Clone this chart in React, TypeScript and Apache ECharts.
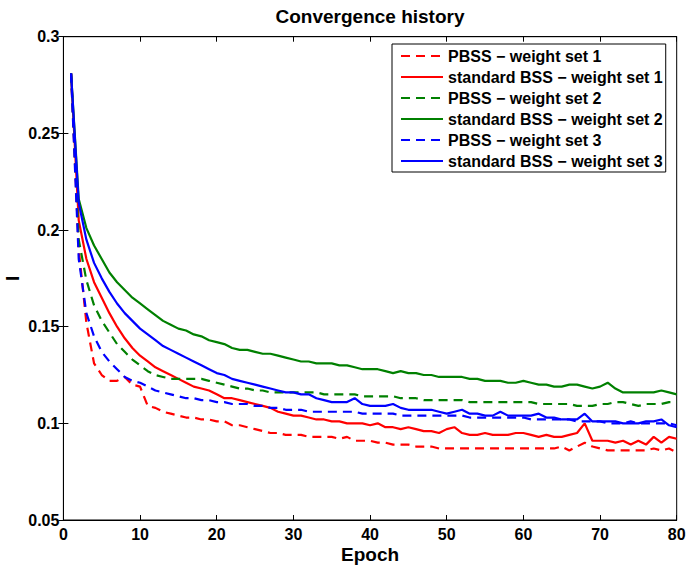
import React, { useEffect, useRef } from "react";
import * as echarts from "echarts";

const epochs: number[] = Array.from({ length: 80 }, (_, i) => i + 1);

const pbss1: number[] = [
  0.281, 0.19, 0.152, 0.131, 0.125, 0.122, 0.122, 0.124, 0.12, 0.119,
  0.109, 0.108, 0.106, 0.105, 0.104, 0.103, 0.103, 0.102, 0.102, 0.101,
  0.101, 0.099, 0.099, 0.098, 0.097, 0.096, 0.095, 0.095, 0.094, 0.094,
  0.094, 0.093, 0.093, 0.093, 0.093, 0.092, 0.093, 0.091, 0.091, 0.091,
  0.09, 0.09, 0.089, 0.089, 0.089, 0.088, 0.088, 0.088, 0.087, 0.087,
  0.087, 0.087, 0.087, 0.087, 0.087, 0.087, 0.087, 0.087, 0.087, 0.087,
  0.087, 0.087, 0.087, 0.087, 0.088, 0.086, 0.088, 0.09, 0.088, 0.087,
  0.086, 0.086, 0.086, 0.086, 0.086, 0.086, 0.087, 0.086, 0.087, 0.085,
];

const standard1: number[] = [
  0.281, 0.205, 0.185, 0.173, 0.165, 0.157, 0.15, 0.144, 0.139, 0.135,
  0.132, 0.129, 0.127, 0.125, 0.123, 0.121, 0.119, 0.118, 0.117, 0.115,
  0.113, 0.113, 0.112, 0.111, 0.11, 0.109, 0.108, 0.106, 0.105, 0.104,
  0.104, 0.103, 0.102, 0.102, 0.101, 0.101, 0.1, 0.1, 0.1, 0.099,
  0.1, 0.098, 0.098, 0.097, 0.098, 0.097, 0.096, 0.096, 0.095, 0.097,
  0.098, 0.095, 0.094, 0.094, 0.095, 0.094, 0.094, 0.094, 0.095, 0.095,
  0.094, 0.093, 0.094, 0.093, 0.093, 0.094, 0.095, 0.1, 0.091, 0.091,
  0.091, 0.09, 0.091, 0.089, 0.091, 0.089, 0.093, 0.09, 0.093, 0.092,
];

const pbss2: number[] = [
  0.281, 0.195, 0.174, 0.161, 0.153, 0.147, 0.141, 0.137, 0.133, 0.13,
  0.127, 0.125, 0.124, 0.123, 0.123, 0.123, 0.123, 0.123, 0.122, 0.121,
  0.12, 0.119, 0.118, 0.118, 0.117, 0.117, 0.116, 0.116, 0.116, 0.116,
  0.116, 0.116, 0.116, 0.115, 0.115, 0.115, 0.115, 0.115, 0.114, 0.114,
  0.114, 0.114, 0.114, 0.113, 0.113, 0.113, 0.112, 0.112, 0.112, 0.112,
  0.112, 0.112, 0.111, 0.111, 0.111, 0.111, 0.111, 0.111, 0.111, 0.111,
  0.111, 0.11, 0.11, 0.11, 0.11, 0.11, 0.109, 0.109, 0.109, 0.11,
  0.11, 0.111, 0.111, 0.11, 0.109, 0.11, 0.11, 0.11, 0.111, 0.111,
];

const standard2: number[] = [
  0.281, 0.216, 0.201, 0.192, 0.185, 0.178, 0.173, 0.169, 0.165, 0.162,
  0.159, 0.156, 0.153, 0.151, 0.149, 0.148, 0.146, 0.145, 0.143, 0.142,
  0.141, 0.139, 0.138, 0.138, 0.137, 0.136, 0.136, 0.135, 0.134, 0.133,
  0.132, 0.132, 0.131, 0.131, 0.131, 0.13, 0.13, 0.129, 0.128, 0.128,
  0.128, 0.127, 0.126, 0.127, 0.126, 0.126, 0.125, 0.125, 0.124, 0.124,
  0.124, 0.124, 0.123, 0.123, 0.122, 0.122, 0.122, 0.121, 0.121, 0.122,
  0.121, 0.12, 0.12, 0.119, 0.119, 0.12, 0.12, 0.119, 0.118, 0.119,
  0.121, 0.118, 0.116, 0.116, 0.116, 0.116, 0.116, 0.117, 0.116, 0.115,
];

const pbss3: number[] = [
  0.281, 0.185, 0.157, 0.145, 0.137, 0.132, 0.128, 0.124, 0.122, 0.121,
  0.119, 0.117, 0.116, 0.115, 0.114, 0.113, 0.113, 0.112, 0.112, 0.111,
  0.111, 0.11, 0.11, 0.11, 0.109, 0.109, 0.108, 0.108, 0.107, 0.107,
  0.107, 0.106, 0.106, 0.106, 0.106, 0.106, 0.106, 0.106, 0.105, 0.105,
  0.105, 0.105, 0.105, 0.104, 0.104, 0.104, 0.104, 0.104, 0.104, 0.104,
  0.104, 0.104, 0.103, 0.103, 0.103, 0.103, 0.103, 0.103, 0.103, 0.103,
  0.102, 0.102, 0.102, 0.102, 0.102, 0.102, 0.101, 0.101, 0.101, 0.101,
  0.1, 0.1, 0.1, 0.101, 0.1, 0.1, 0.1, 0.1, 0.1, 0.099,
];

const standard3: number[] = [
  0.281, 0.214, 0.195, 0.183, 0.175, 0.168, 0.162, 0.157, 0.153, 0.149,
  0.146, 0.143, 0.14, 0.138, 0.136, 0.134, 0.132, 0.13, 0.128, 0.126,
  0.125, 0.123, 0.122, 0.121, 0.12, 0.119, 0.118, 0.117, 0.116, 0.116,
  0.115, 0.115, 0.113, 0.112, 0.111, 0.111, 0.111, 0.113, 0.11, 0.109,
  0.109, 0.109, 0.11, 0.108, 0.107, 0.107, 0.107, 0.107, 0.106, 0.105,
  0.106, 0.107, 0.105, 0.105, 0.104, 0.104, 0.106, 0.104, 0.104, 0.104,
  0.104, 0.105, 0.103, 0.103, 0.102, 0.102, 0.102, 0.105, 0.101, 0.101,
  0.101, 0.101, 0.1, 0.1, 0.1, 0.101, 0.101, 0.102, 0.099, 0.098,
];

const seriesNames: string[] = [
  "PBSS \u2212 weight set 1",
  "standard BSS \u2212 weight set 1",
  "PBSS \u2212 weight set 2",
  "standard BSS \u2212 weight set 2",
  "PBSS \u2212 weight set 3",
  "standard BSS \u2212 weight set 3",
];
const seriesValues: number[][] = [pbss1, standard1, pbss2, standard2, pbss3, standard3];
const seriesColors: string[] = ["#ff0000", "#ff0000", "#008000", "#008000", "#0000ff", "#0000ff"];
const seriesDashed: boolean[] = [true, false, true, false, true, false];

const FONT = "'Liberation Sans', Arial, Helvetica, sans-serif";

export default function App() {
  const ref = useRef<HTMLDivElement>(null);
  useEffect(() => {
    if (!ref.current) return;
    const chart = echarts.init(ref.current, null, { renderer: "svg" });
    const axisLineStyle = { color: "#000", width: 1 };
    const tickCommon = { show: true, inside: true, length: 5, lineStyle: { color: "#000", width: 1 } };
    chart.setOption({
      animation: false,
      backgroundColor: "#fff",
      textStyle: { fontFamily: FONT },
      title: {
        text: "Convergence history",
        left: 370,
        textAlign: "center",
        top: 7,
        padding: 0,
        textStyle: { fontFamily: FONT, fontSize: 19, fontWeight: "bold", color: "#000" },
      },
      grid: {
        left: 63.4,
        right: 9.3,
        top: 36.7,
        bottom: 45,
        outerBoundsMode: "none",
        containLabel: false,
        show: true,
        borderColor: "#000",
        borderWidth: 1,
        backgroundColor: "#fff",
      },
      legend: {
        orient: "vertical",
        left: 392,
        top: 44,
        padding: [2, 3, 1, 8],
        itemWidth: 42,
        itemHeight: 14,
        itemGap: 1,
        itemStyle: { opacity: 0 },
        backgroundColor: "#fff",
        borderColor: "#000",
        borderWidth: 1,
        borderRadius: 0,
        textStyle: { fontFamily: FONT, fontSize: 16, fontWeight: "bold", color: "#000", lineHeight: 20 },
        data: seriesNames,
      },
      xAxis: [
        {
          type: "value",
          min: 0,
          max: 80,
          interval: 10,
          name: "Epoch",
          nameLocation: "middle",
          nameGap: 25,
          nameMoveOverlap: false,
          nameTextStyle: { fontFamily: FONT, fontSize: 19, fontWeight: "bold", color: "#000", lineHeight: 19 },
          axisLine: { show: true, lineStyle: axisLineStyle },
          axisTick: tickCommon,
          axisLabel: { margin: 6, fontFamily: FONT, fontSize: 16, fontWeight: "bold", color: "#000" },
          splitLine: { show: false },
        },
        {
          type: "value",
          position: "top",
          min: 0,
          max: 80,
          interval: 10,
          axisLine: { show: true, lineStyle: axisLineStyle },
          axisTick: tickCommon,
          axisLabel: { show: false },
          splitLine: { show: false },
        },
      ],
      yAxis: [
        {
          type: "value",
          min: 0.05,
          max: 0.3,
          interval: 0.05,
          name: "I",
          nameLocation: "middle",
          nameGap: 41,
          nameMoveOverlap: false,
          nameTextStyle: { fontFamily: FONT, fontSize: 19, fontWeight: "bold", color: "#000", lineHeight: 19 },
          axisLine: { show: true, lineStyle: axisLineStyle },
          axisTick: tickCommon,
          axisLabel: {
            margin: 4,
            fontFamily: FONT,
            fontSize: 16,
            fontWeight: "bold",
            color: "#000",
            formatter: (v: number) => String(parseFloat(v.toFixed(2))),
          },
          splitLine: { show: false },
        },
        {
          type: "value",
          position: "right",
          min: 0.05,
          max: 0.3,
          interval: 0.05,
          axisLine: { show: true, lineStyle: axisLineStyle },
          axisTick: tickCommon,
          axisLabel: { show: false },
          splitLine: { show: false },
        },
      ],
      series: seriesNames.map((name, i) => ({
        name,
        type: "line",
        xAxisIndex: 0,
        yAxisIndex: 0,
        symbol: "none",
        showSymbol: false,
        color: seriesColors[i],
        lineStyle: {
          color: seriesColors[i],
          width: 2.2,
          type: seriesDashed[i] ? [9, 6] : "solid",
        },
        data: epochs.map((e, k) => [e, seriesValues[i][k]]),
      })),
    });
    return () => chart.dispose();
  }, []);
  return <div ref={ref} style={{ width: 686, height: 565, position: "absolute", left: 0, top: 0 }} />;
}
